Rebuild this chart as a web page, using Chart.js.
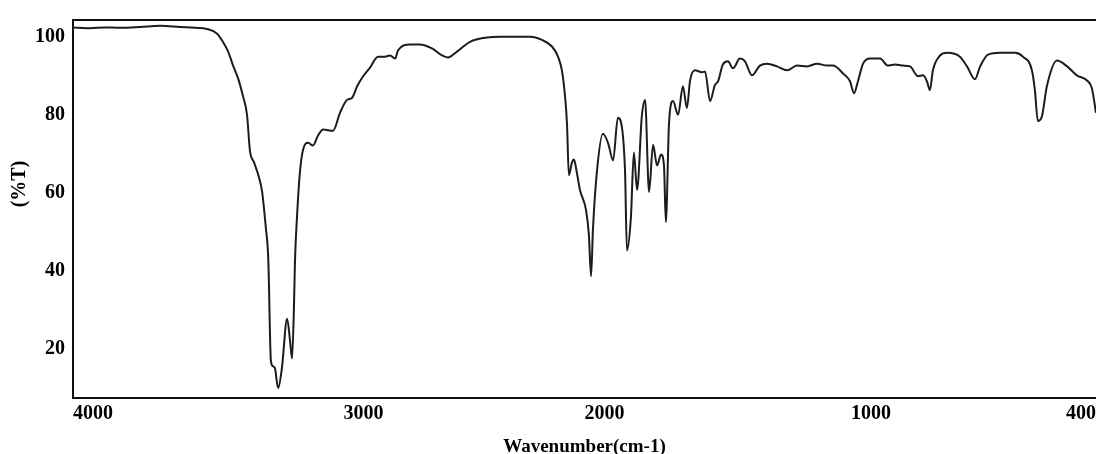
<!DOCTYPE html>
<html>
<head>
<meta charset="utf-8">
<script src="https://cdn.jsdelivr.net/npm/chart.js@4/dist/chart.umd.min.js"></script>
<style>
  html, body { margin: 0; padding: 0; background: #fff; overflow: hidden; }
  #wrap { width: 1096px; height: 454px; overflow: hidden; }
</style>
</head>
<body>
<div id="wrap"><canvas id="ir" width="1100" height="454"></canvas></div>
<script>
// spectrum (wavenumber in cm-1, transmittance in %T)
const wavenumber = [4000,3941,3890,3838,3769,3700,3632,3580,3539,3504,3484,3466,3449,3432,3415,3401,3391,3377,3360,3349,
  3336,3329,3326,3323,3319,3312,3305,3294,3281,3263,3253,3246,3239,3236,3229,3219,3208,3191,3174,3157,
  3139,3105,3081,3057,3040,3022,3002,2973,2940,2911,2890,2869,2857,2807,2766,2716,2674,2650,2612,2558,
  2488,2434,2363,2309,2260,2218,2193,2177,2164,2156,2148,2135,2127,2115,2102,2077,2065,2056,2048,2032,
  2007,1987,1968,1950,1935,1923,1916,1901,1890,1878,1860,1848,1833,1818,1803,1788,1777,1770,1758,1743,
  1724,1706,1691,1679,1661,1634,1623,1604,1586,1574,1556,1537,1518,1492,1473,1447,1417,1390,1353,1315,
  1278,1240,1203,1165,1143,1105,1079,1064,1049,1030,1004,976,955,936,915,896,875,861,851,843,
  835,816,797,763,744,723,709,688,656,616,595,571,563,555,544,531,504,477,451,424,
  411,400];
const transmittance = [102.4,102.2,102.4,102.3,102.5,102.8,102.5,102.3,102.0,100.8,98.7,96.2,92.6,89.4,84.8,80.0,70.8,67.8,64.0,60.2,
  50.8,44.9,38.1,27.2,17.0,15.5,15.0,9.9,15.0,27.7,22.1,17.5,32.2,42.4,53.8,65.2,71.1,72.8,72.1,74.6,
  76.2,75.9,80.5,83.8,84.3,87.3,89.8,92.1,94.9,94.9,95.2,94.4,96.5,98.0,98.0,97.0,95.2,94.7,96.2,98.7,
  99.8,100.0,100.0,100.0,99.2,97.5,94.9,91.4,84.8,77.9,64.5,67.8,68.5,65.2,60.7,55.6,49.2,38.6,50.8,65.2,
  75.1,72.8,68.3,79.2,76.9,65.2,45.2,53.8,70.3,60.7,79.7,83.8,60.2,72.3,67.0,69.8,67.0,52.5,77.9,83.5,
  80.0,87.3,81.7,88.8,91.4,90.9,91.1,83.5,87.6,88.6,92.9,93.7,91.9,94.4,93.7,90.1,92.6,93.1,92.4,91.4,
  92.6,92.4,93.1,92.6,92.6,90.6,88.6,85.5,88.6,93.1,94.4,94.4,92.6,92.9,92.6,92.4,89.9,90.1,88.6,86.3,
  91.4,95.2,95.9,94.9,92.4,89.1,92.4,95.4,95.9,95.9,94.9,91.4,86.3,78.4,79.7,87.3,93.9,92.4,90.1,88.8,
  86.8,80.5];

const xTicks = [4000, 3000, 2000, 1000, 400];
const yTicks = [20, 40, 60, 80, 100];

// the printed wavenumber axis is not evenly spaced: where each tick sits, as a share of the axis width
const xTickShare = [0, 0.284, 0.5196, 0.7801, 1];

function shareOf(v) {
  let i = 0;
  while (i < xTicks.length - 2 && v < xTicks[i + 1]) i++;
  const t = (xTicks[i] - v) / (xTicks[i] - xTicks[i + 1]);
  return xTickShare[i] + t * (xTickShare[i + 1] - xTickShare[i]);
}
function valueOf(s) {
  let i = 0;
  while (i < xTickShare.length - 2 && s > xTickShare[i + 1]) i++;
  const t = (s - xTickShare[i]) / (xTickShare[i + 1] - xTickShare[i]);
  return xTicks[i] - t * (xTicks[i] - xTicks[i + 1]);
}

class WarpScale extends Chart.LinearScale {
  getPixelForValue(value) {
    if (value === null || value === undefined) return NaN;
    return this.left + shareOf(value) * this.width;
  }
  getValueForPixel(pixel) {
    return valueOf((pixel - this.left) / this.width);
  }
}
WarpScale.id = "warp";
WarpScale.defaults = Chart.LinearScale.defaults;
Chart.register(WarpScale);

const serif = "'Liberation Serif', 'Times New Roman', serif";

const yTitle = {
  id: "yTitle",
  afterDraw(chart) {
    const ctx = chart.ctx;
    ctx.save();
    ctx.translate(20, 184);
    ctx.rotate(-Math.PI / 2);
    ctx.font = "bold 20px " + serif;
    ctx.fillStyle = "#000";
    ctx.textAlign = "center";
    ctx.textBaseline = "middle";
    ctx.fillText("(%T)", 0, 0);
    ctx.restore();
  }
};

const points = wavenumber.map((w, i) => ({ x: w, y: transmittance[i] }));

new Chart(document.getElementById("ir"), {
  type: "line",
  data: {
    datasets: [{
      data: points,
      borderColor: "#1c1c1c",
      borderWidth: 2,
      pointRadius: 0,
      cubicInterpolationMode: "monotone",
      fill: false
    }]
  },
  options: {
    responsive: false,
    animation: false,
    devicePixelRatio: 1,
    layout: { padding: { top: 16, left: 0, right: 0, bottom: 0 } },
    plugins: { legend: { display: false }, tooltip: { enabled: false } },
    scales: {
      x: {
        type: "warp",
        position: "bottom",
        min: 400,
        max: 4000,
        afterBuildTicks: s => { s.ticks = xTicks.map(v => ({ value: v })); },
        afterFit: s => { s.height = 56; },
        grid: { display: false, drawTicks: false },
        border: { display: true, color: "#111", width: 2 },
        ticks: {
          autoSkip: false,
          maxRotation: 0,
          align: "inner",
          padding: 4,
          color: "#000",
          font: { family: serif, size: 20, weight: "bold" },
          callback: v => String(v)
        },
        title: {
          display: true,
          text: "Wavenumber(cm-1)",
          color: "#000",
          padding: { top: 0, bottom: -4 },
          font: { family: serif, size: 19, weight: "bold" }
        }
      },
      x2: {
        type: "linear",
        position: "top",
        min: 0,
        max: 1,
        afterFit: s => { s.height = 0; },
        grid: { display: false, drawTicks: false },
        border: { display: true, color: "#111", width: 2 },
        ticks: { display: false }
      },
      y: {
        type: "linear",
        min: 7.36,
        max: 104.3,
        afterBuildTicks: s => { s.ticks = yTicks.map(v => ({ value: v })); },
        afterFit: s => { s.width = 73; },
        grid: { display: false, drawTicks: false },
        border: { display: true, color: "#111", width: 2 },
        ticks: {
          padding: 8,
          color: "#000",
          font: { family: serif, size: 20, weight: "bold" },
          callback: v => String(v)
        }
      }
    }
  },
  plugins: [yTitle]
});
</script>
</body>
</html>
